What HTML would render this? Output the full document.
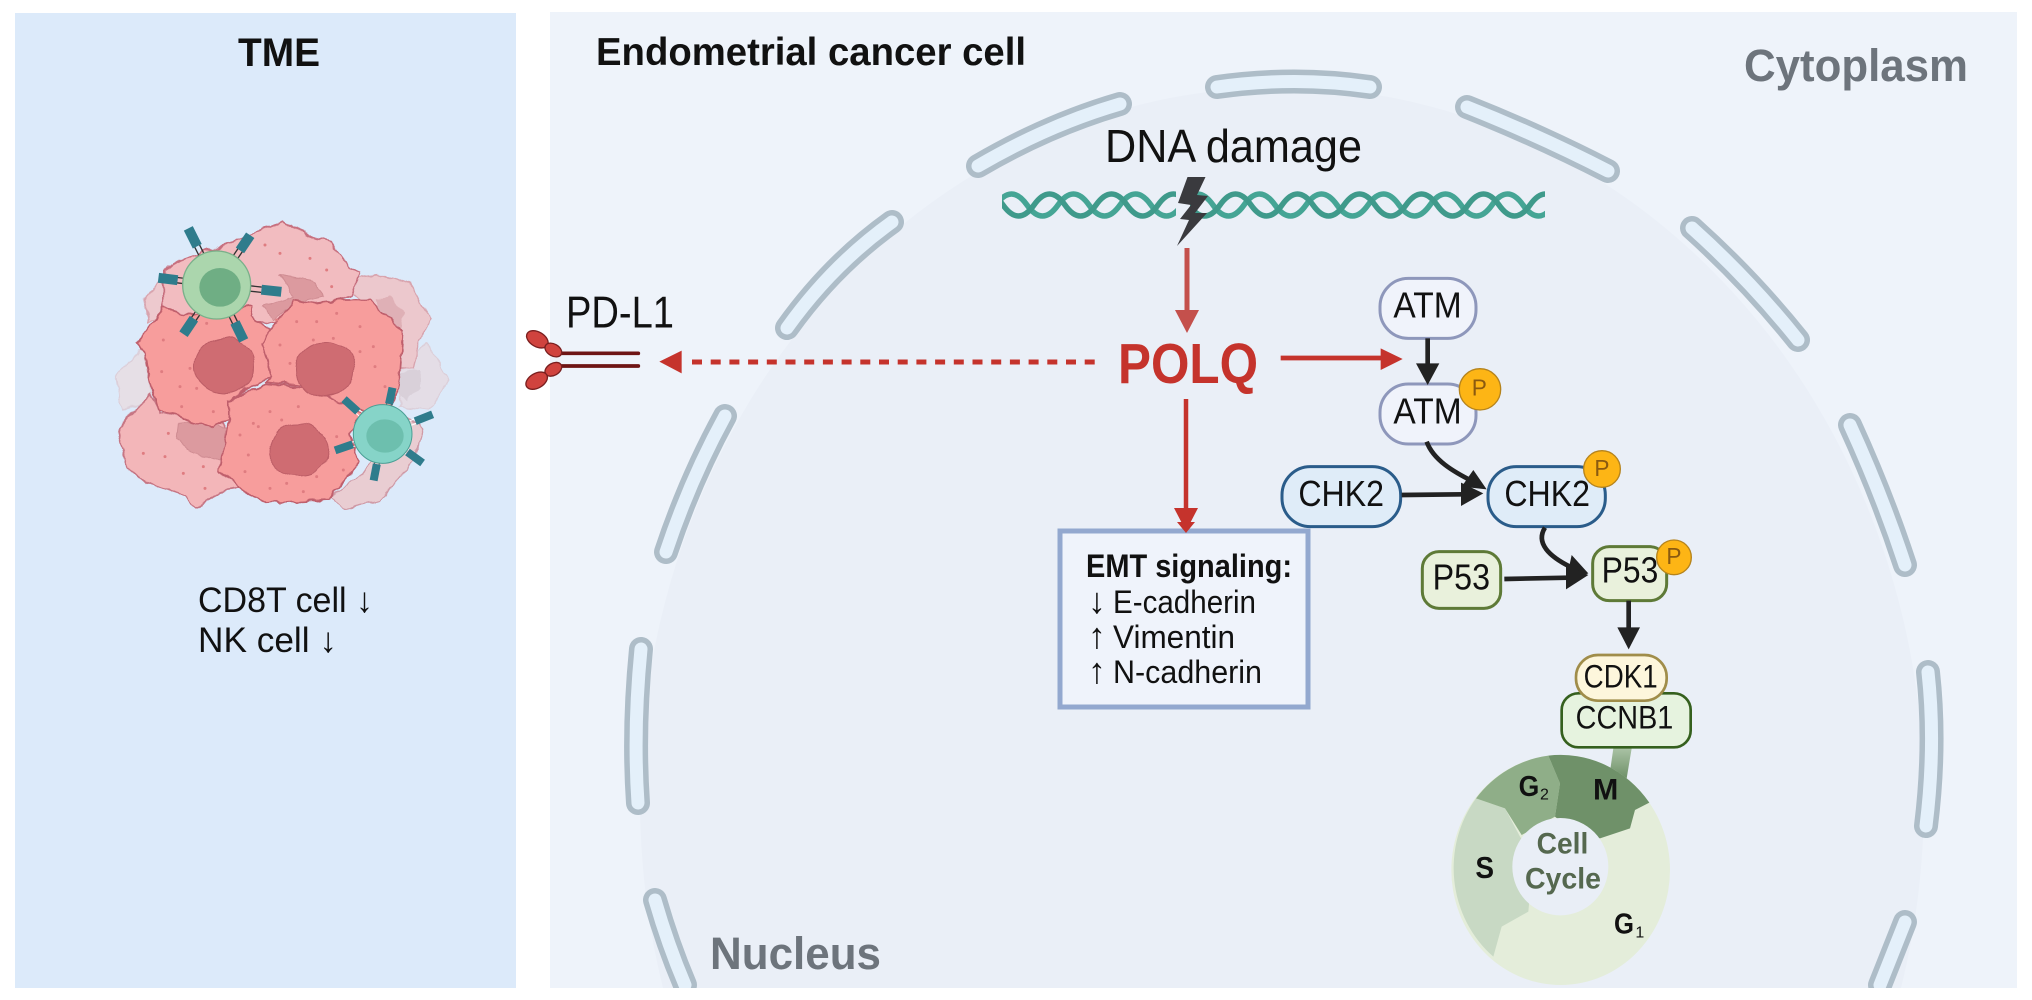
<!DOCTYPE html>
<html><head><meta charset="utf-8"><title>POLQ diagram</title>
<style>html,body{margin:0;padding:0;background:#fff;width:2032px;height:1000px;overflow:hidden}svg{display:block}text{font-family:"Liberation Sans",sans-serif}</style>
</head><body>
<svg xmlns="http://www.w3.org/2000/svg" width="2032" height="1000" viewBox="0 0 2032 1000">
<defs>
<filter id="wob" x="-10%" y="-10%" width="120%" height="120%"><feTurbulence type="fractalNoise" baseFrequency="0.018" numOctaves="1" seed="4"/><feDisplacementMap in="SourceGraphic" scale="30" xChannelSelector="R" yChannelSelector="G"/></filter>
<filter id="wob2" x="-10%" y="-10%" width="120%" height="120%"><feTurbulence type="fractalNoise" baseFrequency="0.025" numOctaves="2" seed="9"/><feDisplacementMap in="SourceGraphic" scale="24" xChannelSelector="R" yChannelSelector="G"/></filter>
<clipPath id="pc"><rect x="550" y="12" width="1467" height="976"/></clipPath>
<clipPath id="dc"><rect x="1002" y="180" width="174" height="50"/><rect x="1190" y="180" width="355" height="50"/></clipPath>
<linearGradient id="stem" x1="0" y1="0" x2="0" y2="1"><stop offset="0" stop-color="#a9c2a4"/><stop offset="1" stop-color="#6f9169"/></linearGradient>
</defs>
<rect width="2032" height="1000" fill="#fff"/>
<rect x="15" y="13" width="501" height="975" fill="#dceafa"/>
<rect x="550" y="12" width="1467" height="976" fill="#eef3fa"/>
<path d="M663,988 A642,712 0 1 1 1901,988Z" fill="#eaeff7"/>
<g clip-path="url(#pc)" fill="none" stroke-linecap="round">
<g stroke="#aebdc8" stroke-width="24">
<path d="M1217,87 Q1295,76 1370,87"/><path d="M978,166 Q1048,125 1120,104"/><path d="M1467,107 Q1540,136 1608,171"/><path d="M787,328 Q832,265 892,222"/><path d="M1692,228 Q1750,280 1798,340"/><path d="M666,552 Q690,480 725,416"/><path d="M1850,425 Q1882,495 1905,565"/><path d="M641,649 Q633,730 638,803"/><path d="M1928,672 Q1936,745 1926,826"/><path d="M655,900 Q668,945 685,985"/><path d="M1905,922 Q1892,955 1880,985"/>
</g>
<g stroke="#e4f0fa" stroke-width="13">
<path d="M1217,87 Q1295,76 1370,87"/><path d="M978,166 Q1048,125 1120,104"/><path d="M1467,107 Q1540,136 1608,171"/><path d="M787,328 Q832,265 892,222"/><path d="M1692,228 Q1750,280 1798,340"/><path d="M666,552 Q690,480 725,416"/><path d="M1850,425 Q1882,495 1905,565"/><path d="M641,649 Q633,730 638,803"/><path d="M1928,672 Q1936,745 1926,826"/><path d="M655,900 Q668,945 685,985"/><path d="M1905,922 Q1892,955 1880,985"/>
</g></g>

<!-- titles -->
<text x="238" y="66" font-size="40" font-weight="bold" fill="#111" textLength="82" lengthAdjust="spacingAndGlyphs">TME</text>
<text x="596" y="65" font-size="39" font-weight="bold" fill="#111" textLength="430" lengthAdjust="spacingAndGlyphs">Endometrial cancer cell</text>
<text x="1744" y="81" font-size="45" font-weight="bold" fill="#6d747c" textLength="224" lengthAdjust="spacingAndGlyphs">Cytoplasm</text>
<text x="710" y="969" font-size="45" font-weight="bold" fill="#6d747c" textLength="171" lengthAdjust="spacingAndGlyphs">Nucleus</text>
<text x="1105" y="162" font-size="46" fill="#111" textLength="257" lengthAdjust="spacingAndGlyphs">DNA damage</text>
<text x="198" y="612" font-size="35" fill="#111" textLength="175" lengthAdjust="spacingAndGlyphs">CD8T cell ↓</text>
<text x="198" y="652" font-size="35" fill="#111" textLength="139" lengthAdjust="spacingAndGlyphs">NK cell ↓</text>

<!-- cells -->
<g transform="translate(80,180) scale(0.33333)" stroke-linejoin="round">
<g filter="url(#wob2)">
<path d="M960,570 L1040,490 L1105,600 L1050,690 L960,680Z" fill="#e4dde6" stroke="#dccfd9" stroke-width="4"/>
<path d="M105,590 L190,500 L215,650 L130,695Z" fill="#e6dfe6" stroke="#dccfd9" stroke-width="4"/>
<path d="M815,295 L890,285 L995,315 L1055,420 L1020,480 L1000,565 L950,560 L960,470 L820,340Z" fill="#ecc8cd" stroke="#d8a4ae" stroke-width="4"/>
<path d="M195,360 L260,270 L330,250 L300,400 L205,425Z" fill="#edc9ce" stroke="#d8a4ae" stroke-width="4"/>
<path d="M750,950 L850,880 L960,700 L1030,740 L1000,840 L900,960 L800,985Z" fill="#e9cdd2" stroke="#cf9aa6" stroke-width="4"/>
<path d="M250,270 L300,240 L500,170 L610,125 L640,145 L700,170 L750,185 L790,240 L840,275 L815,345 L600,430 L250,400Z" fill="#f2bcc0" stroke="#c7707f" stroke-width="5"/>
<path d="M115,745 L210,640 L240,700 L430,730 L440,860 L480,920 L420,935 L350,985 L320,950 L200,910 L140,860Z" fill="#f3b6b9" stroke="#c67684" stroke-width="5"/>
<path d="M640,350 L600,285 L690,300 L730,350 L640,370 L580,420 L555,380Z" fill="#dc9a9f" stroke="#cf8c92" stroke-width="3"/>
<path d="M295,730 L350,725 L440,745 L435,845 L340,820 L290,780Z" fill="#dc9a9f" stroke="#cf8c92" stroke-width="3"/>
<path d="M890,355 L930,350 L975,400 L965,445 L900,390Z" fill="#dfb0b6"/>
<path d="M960,575 L1020,570 L1020,620 L980,660 L955,640Z" fill="#d9d0d9"/>
<path d="M172,490 L250,385 L330,405 L520,378 L510,410 L585,460 L545,490 L575,590 L550,600 L445,660 L445,720 L400,745 L320,720 L235,690 L210,610 L195,520Z" fill="#f79d9c" stroke="#bf5f6c" stroke-width="5"/>
<path d="M545,490 L640,360 L690,370 L780,360 L870,360 L970,455 L960,580 L950,640 L930,700 L790,680 L700,620 L560,605 L575,590Z" fill="#f79d9c" stroke="#bf5f6c" stroke-width="5"/>
<path d="M445,660 L560,610 L700,625 L850,700 L810,760 L835,845 L745,960 L650,965 L560,970 L490,935 L420,870 L445,720Z" fill="#f79d9c" stroke="#bf5f6c" stroke-width="5"/>
</g>
<g filter="url(#wob)" fill="#cf6c72" stroke="#bc5d66" stroke-width="3">
<ellipse cx="432" cy="558" rx="90" ry="84"/><ellipse cx="736" cy="570" rx="88" ry="84"/><ellipse cx="655" cy="810" rx="88" ry="78"/>
</g>
<path d="M250,480h0M300,620h0M245,575h0M330,565h0M380,430h0M305,680h0M400,695h0M350,625h0M590,420h0M650,425h0M710,425h0M770,400h0M840,440h0M880,500h0M840,515h0M885,560h0M915,620h0M630,550h0M600,495h0M700,480h0M760,475h0M520,730h0M570,695h0M605,720h0M655,680h0M535,740h0M480,765h0M495,875h0M505,825h0M570,925h0M620,910h0M670,935h0M710,890h0M770,770h0M790,870h0M555,195h0M600,220h0M690,235h0M740,270h0M755,320h0M265,760h0M190,820h0M255,830h0M370,860h0M375,925h0M310,880h0" fill="none" stroke="#df7c80" stroke-width="9" stroke-linecap="round"/>
<!-- receptors -->
<g fill="#2f7c8c" stroke="none">
<g transform="translate(410,315)">
<g transform="rotate(-116.6)"><path d="M85,-8H135M85,8H135" stroke="#333" stroke-width="4"/><rect x="130" y="-15" width="60" height="30"/></g>
<g transform="rotate(-56)"><path d="M85,-8H135M85,8H135" stroke="#333" stroke-width="4"/><rect x="125" y="-15" width="55" height="30"/></g>
<g transform="rotate(-173)"><path d="M85,-8H135M85,8H135" stroke="#333" stroke-width="4"/><rect x="118" y="-15" width="58" height="30"/></g>
<g transform="rotate(6)"><path d="M85,-8H135M85,8H135" stroke="#333" stroke-width="4"/><rect x="135" y="-15" width="60" height="30"/></g>
<g transform="rotate(124)"><path d="M85,-8H135M85,8H135" stroke="#333" stroke-width="4"/><rect x="122" y="-15" width="56" height="30"/></g>
<g transform="rotate(64)"><path d="M85,-8H135M85,8H135" stroke="#333" stroke-width="4"/><rect x="125" y="-15" width="60" height="30"/></g>
</g>
<g transform="translate(908,762)">
<g transform="rotate(-138)"><path d="M75,-7H115M75,7H115" stroke="#fff" stroke-width="3"/><rect x="100" y="-12" width="56" height="24"/></g>
<g transform="rotate(-78)"><path d="M75,-7H115M75,7H115" stroke="#555" stroke-width="3"/><rect x="92" y="-12" width="50" height="24"/></g>
<g transform="rotate(-21.5)"><path d="M75,-7H115M75,7H115" stroke="#fff" stroke-width="3"/><rect x="105" y="-12" width="56" height="24"/></g>
<g transform="rotate(36)"><path d="M75,-7H115M75,7H115" stroke="#fff" stroke-width="3"/><rect x="92" y="-12" width="56" height="24"/></g>
<g transform="rotate(101)"><path d="M75,-7H115M75,7H115" stroke="#555" stroke-width="3"/><rect x="92" y="-12" width="50" height="24"/></g>
<g transform="rotate(161)"><path d="M75,-7H115M75,7H115" stroke="#fff" stroke-width="3"/><rect x="95" y="-12" width="56" height="24"/></g>
</g>
</g>
<circle cx="410" cy="315" r="102" fill="#abd6ad" stroke="#7ab08a" stroke-width="4"/>
<ellipse cx="420" cy="322" rx="62" ry="58" fill="#6fae84"/>
<circle cx="908" cy="762" r="88" fill="#86d4c8" stroke="#4a9f95" stroke-width="3"/>
<ellipse cx="915" cy="768" rx="56" ry="50" fill="#6dbfae"/>
</g>

<!-- PD-L1 -->
<g transform="translate(500,280) scale(0.33333)">
<path d="M180,220H415M180,258H415" stroke="#6e1414" stroke-width="11" stroke-linecap="round"/>
<g fill="#d0433e" stroke="#7a1f1f" stroke-width="4">
<ellipse cx="112" cy="178" rx="35" ry="22" transform="rotate(30 112 178)"/>
<ellipse cx="160" cy="210" rx="27" ry="18" transform="rotate(30 160 210)"/>
<ellipse cx="160" cy="268" rx="27" ry="18" transform="rotate(-30 160 268)"/>
<ellipse cx="110" cy="302" rx="35" ry="22" transform="rotate(-30 110 302)"/>
</g>
<text x="198" y="143" font-size="134" fill="#111" textLength="324" lengthAdjust="spacingAndGlyphs">PD-L1</text>
<polygon points="478,245 545,212 545,280" fill="#c5332c"/>
</g>
<path d="M692,362H1099" stroke="#c5332c" stroke-width="5" stroke-dasharray="10 8.7"/>

<!-- DNA -->
<g fill="none" stroke-width="5.5" clip-path="url(#dc)">
<path stroke="#45a595" d="M996,205q15.5,-22 31,0t31,0t31,0t31,0t31,0t31,0t31,0t31,0t31,0t31,0t31,0t31,0t31,0t31,0t31,0t31,0t31,0t31,0t31,0"/>
<path stroke="#3f9a8b" d="M972,205q15.5,-22 31,0t31,0t31,0t31,0t31,0t31,0t31,0t31,0t31,0t31,0t31,0t31,0t31,0t31,0t31,0t31,0t31,0t31,0t31,0"/>
</g>
<polygon points="1187.5,177 1205.5,177 1197,195 1208,196 1195,213 1207,213 1177,246 1189,220 1180,219 1191,205 1178,203" fill="#3a3a3e"/>

<!-- red arrows -->
<path d="M1187,248V312" stroke="#c4504c" stroke-width="5"/>
<polygon points="1175,310 1199,310 1187,333" fill="#c4504c"/>
<text x="1118" y="383" font-size="57" font-weight="bold" fill="#c5332c" textLength="140" lengthAdjust="spacingAndGlyphs">POLQ</text>
<path d="M1186,399V510" stroke="#c5332c" stroke-width="4.5"/>
<polygon points="1174,508 1198,508 1186,531" fill="#c5332c"/>

<!-- EMT -->
<rect x="1060" y="531" width="248" height="176" fill="#eff3fb" stroke="#93a8cf" stroke-width="5"/>
<polygon points="1177,522 1195,522 1186,533" fill="#c5332c"/>
<text x="1086" y="577" font-size="32" font-weight="bold" fill="#111" textLength="206" lengthAdjust="spacingAndGlyphs">EMT signaling:</text>
<g font-size="36" fill="#111" text-anchor="middle"><text x="1097" y="613">↓</text><text x="1097" y="648">↑</text><text x="1097" y="683">↑</text></g>
<text x="1113" y="613" font-size="32" fill="#111" textLength="143" lengthAdjust="spacingAndGlyphs">E-cadherin</text>
<text x="1113" y="648" font-size="32" fill="#111" textLength="122" lengthAdjust="spacingAndGlyphs">Vimentin</text>
<text x="1113" y="683" font-size="32" fill="#111" textLength="149" lengthAdjust="spacingAndGlyphs">N-cadherin</text>

<!-- pathway -->
<g transform="translate(1260,260) scale(0.33333)">
<path d="M62,294H365" stroke="#c5332c" stroke-width="14"/>
<polygon points="362,265 428,297 362,330" fill="#c5332c"/>
<rect x="360" y="55" width="288" height="180" rx="85" fill="#f0f3fb" stroke="#8e97bb" stroke-width="9"/>
<rect x="360" y="372" width="288" height="180" rx="85" fill="#f0f3fb" stroke="#8e97bb" stroke-width="9"/>
<rect x="66" y="620" width="356" height="180" rx="85" fill="#dfecf8" stroke="#2a5c8a" stroke-width="9"/>
<rect x="684" y="620" width="352" height="180" rx="85" fill="#dfecf8" stroke="#2a5c8a" stroke-width="9"/>
<rect x="487" y="875" width="235" height="170" rx="50" fill="#e9f1dc" stroke="#5e7a37" stroke-width="9"/>
<rect x="998" y="860" width="222" height="162" rx="50" fill="#e9f1dc" stroke="#5e7a37" stroke-width="9"/>
<g fill="none" stroke="#222" stroke-width="14">
<path d="M503,235V315"/>
<path d="M500,545C520,600 580,635 640,665"/>
<path d="M425,705L610,703"/>
<path d="M855,803C825,850 870,890 930,920"/>
<path d="M733,957L925,953"/>
<path d="M1106,1022V1105"/>
</g>
<g fill="#222">
<polygon points="468,310 538,310 503,375"/>
<polygon points="640,630 680,688 605,680"/>
<polygon points="603,668 670,700 603,738"/>
<polygon points="935,885 985,940 918,965"/>
<polygon points="918,915 985,945 918,988"/>
<polygon points="1072,1102 1140,1102 1106,1168"/>
</g>
<g fill="#111" font-size="108">
<text x="400" y="172" textLength="205" lengthAdjust="spacingAndGlyphs">ATM</text>
<text x="400" y="490" textLength="205" lengthAdjust="spacingAndGlyphs">ATM</text>
<text x="115" y="738" textLength="257" lengthAdjust="spacingAndGlyphs">CHK2</text>
<text x="733" y="738" textLength="257" lengthAdjust="spacingAndGlyphs">CHK2</text>
<text x="518" y="988" textLength="172" lengthAdjust="spacingAndGlyphs">P53</text>
<text x="1025" y="968" textLength="170" lengthAdjust="spacingAndGlyphs">P53</text>
</g>
<g fill="#fdb515" stroke="#b5831c" stroke-width="4">
<circle cx="660" cy="388" r="62"/><circle cx="1026" cy="627" r="55"/><circle cx="1242" cy="892" r="52"/>
</g>
<g fill="#8a5a10" font-size="68" text-anchor="middle">
<text x="658" y="406">P</text><text x="1026" y="648">P</text><text x="1242" y="912">P</text>
</g>
</g>

<!-- cell cycle -->
<g transform="translate(1400,640) scale(0.33333)">
<path d="M640,325H695L680,415L630,395Z" fill="url(#stem)"/>
<rect x="485" y="160" width="387" height="162" rx="50" fill="#e6f3df" stroke="#35601e" stroke-width="8"/>
<rect x="528" y="45" width="272" height="137" rx="66" fill="#fdf6dc" stroke="#a08d4a" stroke-width="8"/>
<text x="551" y="142" font-size="96" fill="#111" textLength="222" lengthAdjust="spacingAndGlyphs">CDK1</text>
<text x="527" y="266" font-size="96" fill="#111" textLength="293" lengthAdjust="spacingAndGlyphs">CCNB1</text>
<ellipse cx="482" cy="690" rx="328" ry="345" fill="#e4edda"/>
<path d="M228,475 A328,345 0 0 0 280,950 L305,860 L385,815 L400,650 L360,590 L315,505Z" fill="#c8d9c4"/>
<path d="M228,475 A328,345 0 0 1 445,347 L480,430 L465,530 L365,585 L315,505Z" fill="#8fae88"/>
<path d="M445,347 A328,345 0 0 1 748,488 L705,510 L690,565 L600,595 L500,560 L465,530 L480,430Z" fill="#6f9169"/>
<ellipse cx="481" cy="680" rx="144" ry="146" fill="#e9eef6"/>
<g font-weight="bold" fill="#111">
<text x="356" y="468" font-size="86" textLength="62" lengthAdjust="spacingAndGlyphs">G</text><text x="420" y="478" font-size="48" font-weight="normal">2</text>
<text x="579" y="478" font-size="90" textLength="76" lengthAdjust="spacingAndGlyphs">M</text>
<text x="226" y="714" font-size="92" textLength="56" lengthAdjust="spacingAndGlyphs">S</text>
<text x="642" y="880" font-size="86" textLength="60" lengthAdjust="spacingAndGlyphs">G</text><text x="706" y="892" font-size="48" font-weight="normal">1</text>
</g>
<g font-weight="bold" font-size="90" fill="#55684f">
<text x="410" y="640" textLength="155" lengthAdjust="spacingAndGlyphs">Cell</text><text x="375" y="745" textLength="228" lengthAdjust="spacingAndGlyphs">Cycle</text>
</g>
</g>
</svg>
</body></html>
